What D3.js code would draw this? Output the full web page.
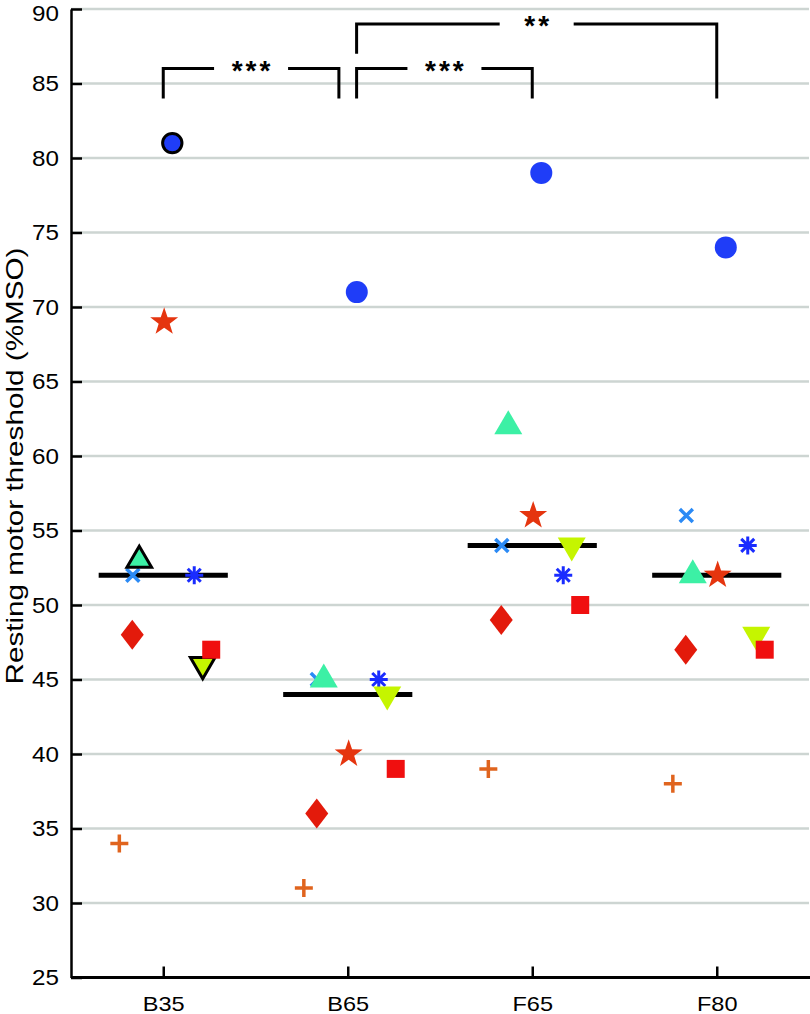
<!DOCTYPE html>
<html>
<head>
<meta charset="utf-8">
<script src="https://cdn.jsdelivr.net/npm/d3@7"></script>
<style>
  body { margin: 0; background: #fff; }
  text { font-family: "Liberation Sans", Arial, Helvetica, sans-serif; fill: #000; }
</style>
</head>
<body>
<div id="content"></div>
<script>
// conditions on the x axis
const groups = ["B35", "B65", "F65", "F80"];
const yTicks = [25, 30, 35, 40, 45, 50, 55, 60, 65, 70, 75, 80, 85, 90];

// one array per subject, values in group order (%MSO)
const plusVals     = [34, 31, 39, 38];
const diamondVals  = [48, 36, 49, 47];
const crossVals    = [52, 45, 54, 56];
const triUpVals    = [53, 45, 62, 52];
const starVals     = [69, 40, 56, 52];
const circleVals   = [81, 71, 79, 74];
const asteriskVals = [52, 45, 52, 54];
const triDownVals  = [46, 44, 54, 48];
const squareVals   = [47, 39, 50, 47];

// horizontal spread of each subject inside a group (in group units)
const subjectJitter = {
    plus: -0.238, diamond: -0.168, cross: -0.165, triUp: -0.13, star: 0.005,
    circle: 0.049, asterisk: 0.168, triDown: 0.214, square: 0.26
};

const medians = [52, 44, 54, 52];

// subjects drawn with a black edge in the first group
const outlinedGroup = "B35";
const outlinedSubjects = ["circle", "triUp", "triDown"];

// pairwise comparisons
const comparisons = [
    ["B35", "B65", "***"],
    ["B65", "F65", "***"],
    ["B65", "F80", "**"]
];

const series = [
    { name: "plus", values: plusVals, color: "#e0641e" },
    { name: "diamond", values: diamondVals, color: "#e31a0b" },
    { name: "cross", values: crossVals, color: "#2b8af5" },
    { name: "triUp", values: triUpVals, color: "#3cf0a5" },
    { name: "star", values: starVals, color: "#e5350f" },
    { name: "circle", values: circleVals, color: "#1f3df8" },
    { name: "asterisk", values: asteriskVals, color: "#1a2cff" },
    { name: "triDown", values: triDownVals, color: "#c5f500" },
    { name: "square", values: squareVals, color: "#f00f0f" }
];

const width = 810;
const height = 1014;
const plotLeft = 71, plotRight = 809, plotTop = 9, plotBottom = 977.5;

const svg = d3.select("#content")
    .append("svg")
    .attr("width", width)
    .attr("height", height);

const xScale = d3.scaleLinear()
    .domain([-0.5, groups.length - 0.5])
    .range([plotLeft, plotRight]);
const yScale = d3.scaleLinear()
    .domain([25, 90])
    .range([plotBottom, plotTop]);

function stretch(sel, k) {
    sel.each(function () {
        const w = this.getComputedTextLength();
        d3.select(this).attr("textLength", w * k).attr("lengthAdjust", "spacingAndGlyphs");
    });
}

// grid
svg.append("g")
    .selectAll("line")
    .data(yTicks.filter(d => d > 25))
    .enter()
    .append("line")
    .attr("x1", plotLeft)
    .attr("x2", plotRight)
    .attr("y1", d => yScale(d))
    .attr("y2", d => yScale(d))
    .attr("stroke", "#cdd5d2")
    .attr("stroke-width", 2.5);

// axes
const yAxis = d3.axisLeft(yScale)
    .tickValues(yTicks)
    .tickSizeInner(-11)
    .tickSizeOuter(0)
    .tickPadding(12);
const xAxis = d3.axisBottom(xScale)
    .tickValues(d3.range(groups.length))
    .tickFormat(i => groups[i])
    .tickSizeInner(-11)
    .tickSizeOuter(0)
    .tickPadding(19);

const gy = svg.append("g")
    .attr("transform", `translate(${plotLeft}, 0)`)
    .call(yAxis);
gy.select(".domain").attr("stroke-width", 2.5);
gy.selectAll(".tick line").attr("stroke-width", 2.5);
gy.selectAll("text")
    .attr("font-size", 22)
    .attr("font-family", "Liberation Sans, Arial, sans-serif");
gy.selectAll(".tick").filter(d => d === 90).select("text").attr("dy", "0.5em");
stretch(gy.selectAll("text"), 1.1);

const gx = svg.append("g")
    .attr("transform", `translate(0, ${plotBottom})`)
    .call(xAxis);
gx.select(".domain").attr("stroke-width", 3).attr("d", `M${plotLeft},0H${width}`);
gx.selectAll(".tick line").attr("stroke-width", 2.5);
gx.selectAll("text")
    .attr("font-size", 21)
    .attr("font-family", "Liberation Sans, Arial, sans-serif");
stretch(gx.selectAll("text"), 1.12);

svg.append("text")
    .attr("transform", `translate(23, 466) rotate(-90)`)
    .attr("text-anchor", "middle")
    .attr("font-size", 24)
    .attr("textLength", 437)
    .attr("lengthAdjust", "spacingAndGlyphs")
    .text("Resting motor threshold (%MSO)");

// median bars
svg.append("g")
    .selectAll("line")
    .data(medians)
    .enter()
    .append("line")
    .attr("x1", (d, i) => xScale(i - 0.35))
    .attr("x2", (d, i) => xScale(i + 0.35))
    .attr("y1", d => yScale(d))
    .attr("y2", d => yScale(d))
    .attr("stroke", "#000")
    .attr("stroke-width", 5);

// marker shapes
function star(R, r) {
    const pts = [];
    for (let k = 0; k < 10; k++) {
        const a = -Math.PI / 2 + k * Math.PI / 5;
        const rad = k % 2 === 0 ? R : r;
        pts.push([rad * Math.cos(a), rad * Math.sin(a)]);
    }
    return "M" + pts.map(p => p.join(",")).join("L") + "Z";
}
const shapes = {
    circle: d3.symbol(d3.symbolCircle, Math.PI * 11 * 11)(),
    triUp: "M0,-16L14,8L-14,8Z",
    triDown: "M0,16L14,-8L-14,-8Z",
    diamond: "M0,-15L11.5,0L0,15L-11.5,0Z",
    square: "M-9,-9H9V9H-9Z",
    star: star(14.7, 5.8),
    cross: "M-6.5,-6.5L6.5,6.5M-6.5,6.5L6.5,-6.5",
    plus: "M-9,0H9M0,-9V9",
    asterisk: "M-9,0H9M0,-9V9M-6.5,-6.5L6.5,6.5M-6.5,6.5L6.5,-6.5"
};
const lineShapes = ["cross", "plus", "asterisk"];

const points = [];
series.forEach(s => {
    s.values.forEach((v, i) => {
        points.push({ name: s.name, color: s.color, group: groups[i], gi: i, value: v });
    });
});

svg.append("g")
    .selectAll("path")
    .data(points)
    .enter()
    .append("path")
    .attr("transform", d => {
        const edge = d.group === outlinedGroup && outlinedSubjects.includes(d.name);
        return `translate(${xScale(d.gi + subjectJitter[d.name])}, ${yScale(d.value)})` + (edge ? " scale(0.88)" : "");
    })
    .attr("d", d => shapes[d.name])
    .attr("fill", d => lineShapes.includes(d.name) ? "none" : d.color)
    .attr("stroke", d => {
        if (lineShapes.includes(d.name)) return d.color;
        return d.group === outlinedGroup && outlinedSubjects.includes(d.name) ? "#000" : "none";
    })
    .attr("stroke-width", d => lineShapes.includes(d.name) ? (d.name === "asterisk" ? 3 : 3.5) : 3.4);

// significance brackets
const levelTop = [86, 89];
const legBottom = 84;
const nudge = 0.048;
const shared = g => comparisons.filter(c => c[0] === g || c[1] === g).length > 1;

comparisons.forEach((c, k) => {
    const i0 = groups.indexOf(c[0]);
    const i1 = groups.indexOf(c[1]);
    const level = k < 2 ? 0 : 1;
    const x0 = xScale(i0 + (shared(c[0]) ? nudge : 0));
    const x1 = xScale(i1 - (shared(c[1]) ? nudge : 0));
    const yTop = yScale(levelTop[level]);
    const y0b = level === 1 ? yScale(levelTop[0] + 1) : yScale(legBottom);
    const y1b = yScale(legBottom);
    const mid = (x0 + x1) / 2;
    const gap = 37;
    const g = svg.append("g")
        .attr("fill", "none")
        .attr("stroke", "#000")
        .attr("stroke-width", 3);
    g.append("path").attr("d", `M${x0},${y0b}V${yTop}H${mid - gap}`);
    g.append("path").attr("d", `M${mid + gap},${yTop}H${x1}V${y1b}`);
    svg.append("text")
        .attr("x", mid + 1.5)
        .attr("y", yTop + 11)
        .attr("text-anchor", "middle")
        .attr("font-size", 28)
        .attr("font-weight", "bold")
        .attr("letter-spacing", 3)
        .text(c[2]);
});
</script>
</body>
</html>
